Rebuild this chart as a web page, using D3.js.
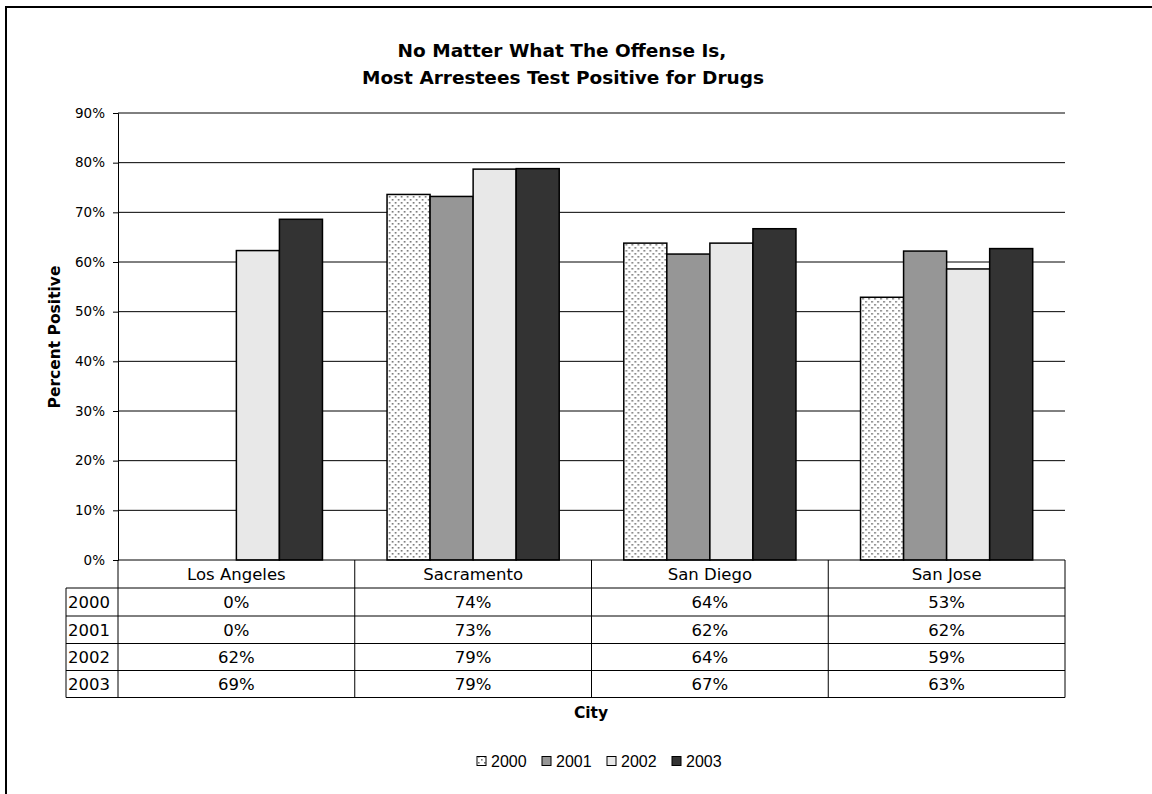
<!DOCTYPE html>
<html><head><meta charset="utf-8">
<script src="https://cdn.jsdelivr.net/npm/d3@7"></script>
<style>body{margin:0;background:#fff}svg{display:block}</style>
</head><body>
<svg id="c" width="1152" height="794"></svg>
<script>
const cities = ["Los Angeles", "Sacramento", "San Diego", "San Jose"];
const years = ["2000", "2001", "2002", "2003"];
const v2000 = [0, 73.6, 63.8, 52.9];
const v2001 = [0, 73.2, 61.6, 62.2];
const v2002 = [62.3, 78.7, 63.8, 58.6];
const v2003 = [68.6, 78.8, 66.7, 62.7];
const yTicks = [0, 10, 20, 30, 40, 50, 60, 70, 80, 90];
const series = [v2000, v2001, v2002, v2003];
const fills = ["url(#dots)", "#969696", "#e8e8e8", "#333333"];

const svg = d3.select("#c");
const defs = svg.append("defs");
const pat = defs.append("pattern").attr("id","dots").attr("patternUnits","userSpaceOnUse")
  .attr("width",6).attr("height",6);
pat.append("rect").attr("width",6).attr("height",6).attr("fill","#fff");
pat.append("rect").attr("x",1).attr("y",1).attr("width",1.6).attr("height",1.6).attr("fill","#707070");
pat.append("rect").attr("x",4).attr("y",4).attr("width",1.6).attr("height",1.6).attr("fill","#707070");

// outer frame
svg.append("rect").attr("x",6).attr("y",7).attr("width",1300).attr("height",900)
  .attr("fill","none").attr("stroke","#000").attr("stroke-width",2);

const L = 118, R = 1065, T = 113, B = 560;
const x0 = d3.scaleBand().domain(cities).range([L, R]).padding(0);
const x1 = d3.scaleBand().domain(years).range([0, x0.bandwidth()]).paddingInner(0).paddingOuter(0.75);
const y = d3.scaleLinear().domain([0, 90]).range([B, T]);

// title
const title = svg.append("text").attr("text-anchor","middle")
  .attr("font-family","DejaVu Sans").attr("font-weight","bold").attr("font-size",18.5);
title.append("tspan").attr("x",562).attr("y",57).text("No Matter What The Offense Is,");
title.append("tspan").attr("x",563).attr("y",84).text("Most Arrestees Test Positive for Drugs");

// gridlines
svg.append("g").selectAll("line").data(yTicks.filter(d=>d>0)).join("line")
  .attr("x1",L).attr("x2",R).attr("y1",d=>y(d)).attr("y2",d=>y(d))
  .attr("stroke","#000").attr("stroke-width",1);

// y axis
const yAxis = d3.axisLeft(y).tickValues(yTicks).tickFormat(d=>d+"%").tickSize(5).tickPadding(8);
const ga = svg.append("g").attr("transform",`translate(${L},0)`).call(yAxis);
ga.select(".domain").attr("stroke","#000");
ga.selectAll("text").attr("font-family","DejaVu Sans").attr("font-size",13.5).attr("fill","#000");

// bars
const groups = svg.append("g").selectAll("g").data(cities).join("g")
  .attr("transform",d=>`translate(${x0(d)},0)`);
groups.selectAll("rect").data((c,i)=>years.map((yr,j)=>({yr, j, v: series[j][i]}))).join("rect")
  .attr("x",d=>x1(d.yr)).attr("width",x1.bandwidth())
  .attr("y",d=>y(d.v)).attr("height",d=>B - y(d.v))
  .attr("fill",d=>fills[d.j]).attr("stroke",d=>d.v>0?"#000":"none").attr("stroke-width",1.5);

// x axis line
svg.append("line").attr("x1",L).attr("x2",R).attr("y1",B).attr("y2",B).attr("stroke","#000");

// data table
const rowH = [588, 616, 643.5, 670.5, 697.5];
const tbl = svg.append("g").attr("stroke","#000").attr("stroke-width",1);
const colEdges = cities.map(c=>x0(c)).concat([R]);
tbl.selectAll("line.v").data(colEdges).join("line").attr("class","v")
  .attr("x1",d=>d).attr("x2",d=>d).attr("y1",B).attr("y2",rowH[4]);
tbl.append("line").attr("x1",66).attr("x2",66).attr("y1",rowH[0]).attr("y2",rowH[4]);
tbl.selectAll("line.h").data(rowH).join("line").attr("class","h")
  .attr("x1",66).attr("x2",R).attr("y1",d=>d).attr("y2",d=>d);

const tf = {family:"DejaVu Sans", size:16.5};
svg.append("g").selectAll("text").data(cities).join("text")
  .attr("x",d=>x0(d)+x0.bandwidth()/2).attr("y",(B+rowH[0])/2+6)
  .attr("text-anchor","middle").attr("font-family",tf.family).attr("font-size",tf.size).text(d=>d);
svg.append("g").selectAll("text").data(years).join("text")
  .attr("x",68).attr("y",(d,j)=>(rowH[j]+rowH[j+1])/2+6)
  .attr("font-family",tf.family).attr("font-size",tf.size).text(d=>d);
years.forEach((yr,j)=>{
  svg.append("g").selectAll("text").data(cities).join("text")
    .attr("x",d=>x0(d)+x0.bandwidth()/2).attr("y",(rowH[j]+rowH[j+1])/2+6)
    .attr("text-anchor","middle").attr("font-family",tf.family).attr("font-size",tf.size)
    .text((d,i)=>Math.round(series[j][i])+"%");
});

// axis titles
svg.append("text").attr("transform","translate(60,337) rotate(-90)").attr("text-anchor","middle")
  .attr("font-family","DejaVu Sans").attr("font-weight","bold").attr("font-size",15.5).text("Percent Positive");
svg.append("text").attr("x",591).attr("y",718).attr("text-anchor","middle")
  .attr("font-family","DejaVu Sans").attr("font-weight","bold").attr("font-size",15.5).text("City");

// legend
const lg = svg.append("g").attr("transform","translate(477,761)");
const items = lg.selectAll("g").data(years).join("g").attr("transform",(d,j)=>`translate(${j*65},0)`);
items.append("rect").attr("x",0).attr("y",-4.5).attr("width",9).attr("height",9)
  .attr("fill",(d,j)=>fills[j]).attr("stroke","#000").attr("stroke-width",1);
items.append("text").attr("x",14).attr("y",5.5).attr("font-family","Liberation Sans").attr("font-size",16).text(d=>d);
</script>
</body></html>
